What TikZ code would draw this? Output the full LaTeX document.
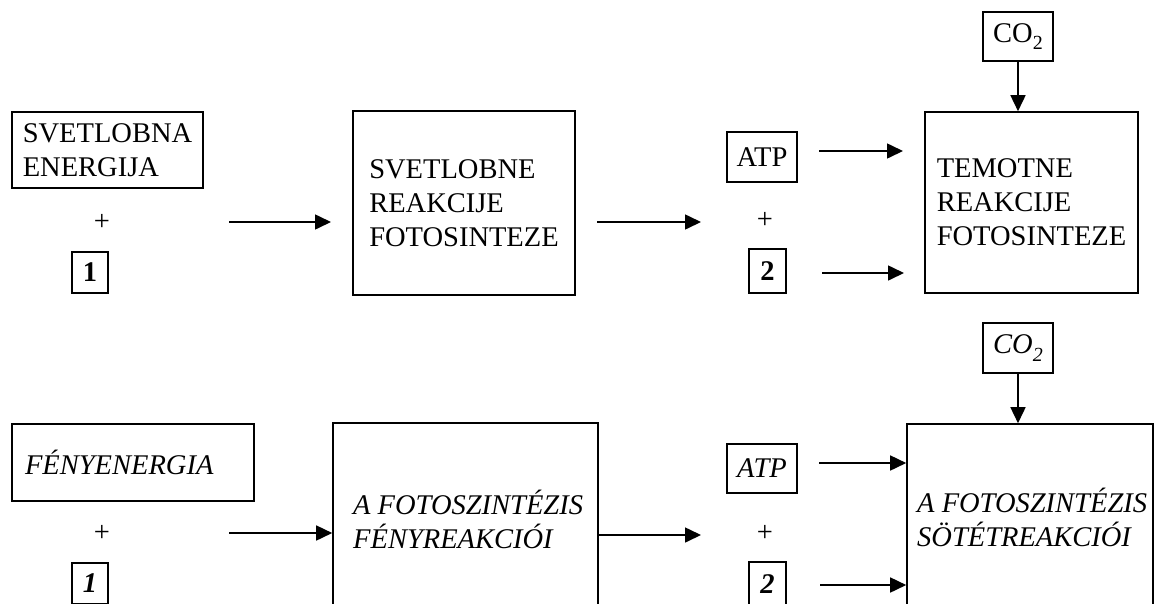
\documentclass[tikz,border=0pt]{standalone}
\usepackage{fontspec}
\setmainfont{Liberation Serif}
\usetikzlibrary{arrows.meta}
\tikzset{
  box/.style={draw, line width=1.6pt, rectangle, inner sep=0pt, align=left},
  txt/.style={inner sep=0pt, align=left, anchor=west},
  sym/.style={inner sep=0pt},
  arr/.style={line width=1.6pt, -{Triangle[length=16pt,width=15pt]}},
}
\newcommand{\sub}[1]{\raisebox{-0.55ex}{\fontsize{20}{20}\selectfont #1}}
\begin{document}
\begin{tikzpicture}[x=1pt,y=-1pt,font=\fontsize{28.5}{34}\selectfont]
\useasboundingbox (0,0) rectangle (1159,603);
\clip (0,0) rectangle (1159,603);
% ---------- top row ----------
\node[box, minimum width=191pt, minimum height=76pt] (se) at (107.5,150) {SVETLOBNA\\ENERGIJA};
\node[sym] (p1) at (102,222) {+};
\node[box, minimum width=36pt, minimum height=41pt, align=center] (o1) at (90,272.5) {\textbf{1}};
\node[box, minimum width=222pt, minimum height=184pt] (b1) at (464,203) {SVETLOBNE\\REAKCIJE\\FOTOSINTEZE};
\node[box, minimum width=70pt, minimum height=50pt, align=center] (atp1) at (762,157) {ATP};
\node[sym] (p2) at (765,220) {+};
\node[box, minimum width=37pt, minimum height=44pt, align=center] (t1) at (767.5,271) {\textbf{2}};
\node[box, minimum width=213pt, minimum height=181pt] (b2) at (1031.5,202.5) {TEMOTNE\\REAKCIJE\\FOTOSINTEZE};
\node[box, minimum width=70pt, minimum height=49pt, align=center] (co1) at (1018,36.5) {CO\sub{2}};
\coordinate (a1s) at (229,222);
\coordinate (a1e) at (331,222);
\coordinate (a2s) at (597,222);
\coordinate (a2e) at (701,222);
\coordinate (a3s) at (819,151);
\coordinate (a3e) at (903,151);
\coordinate (a4s) at (822,273);
\coordinate (a4e) at (904,273);
\draw[arr] (a1s) -- (a1e);
\draw[arr] (a2s) -- (a2e);
\draw[arr] (a3s) -- (a3e);
\draw[arr] (a4s) -- (a4e);
\draw[arr] (co1.south) -- (co1.south |- b2.north);
% ---------- bottom row ----------
\node[box, minimum width=242pt, minimum height=77pt, text width=216pt, inner xsep=13pt] (fe) at (133,462.5) {\itshape FÉNYENERGIA};
\node[sym] (p3) at (102,533) {+};
\node[box, minimum width=36pt, minimum height=41pt, align=center] (o2) at (90,583.5) {\textbf{\itshape 1}};
\node[box, minimum width=265pt, minimum height=260pt] (b3) at (465.5,553) {};
\node[txt] (b3t) at (353,519) {\itshape A FOTOSZINTÉZIS\\\itshape FÉNYREAKCIÓI};
\node[box, minimum width=70pt, minimum height=49pt, align=center] (atp2) at (762,468.5) {\itshape ATP};
\node[sym] (p4) at (765,533) {+};
\node[box, minimum width=37pt, minimum height=44pt, align=center] (t2) at (767.5,584) {\textbf{\itshape 2}};
\node[box, minimum width=246pt, minimum height=260pt] (b4) at (1030,554) {};
\node[txt] (b4t) at (917,517) {\itshape A FOTOSZINTÉZIS\\\itshape SÖTÉTREAKCIÓI};
\node[box, minimum width=70pt, minimum height=50pt, align=center] (co2) at (1018,348) {\itshape CO\sub{2}};
\coordinate (c1s) at (229,533);
\coordinate (c2e) at (701,535);
\coordinate (c3s) at (819,463);
\coordinate (c4s) at (820,585);
\draw[arr] (c1s) -- (c1s -| b3.west);
\draw[arr] (b3.east |- c2e) -- (c2e);
\draw[arr] (c3s) -- (c3s -| b4.west);
\draw[arr] (c4s) -- (c4s -| b4.west);
\draw[arr] (co2.south) -- (co2.south |- b4.north);
\end{tikzpicture}
\end{document}
